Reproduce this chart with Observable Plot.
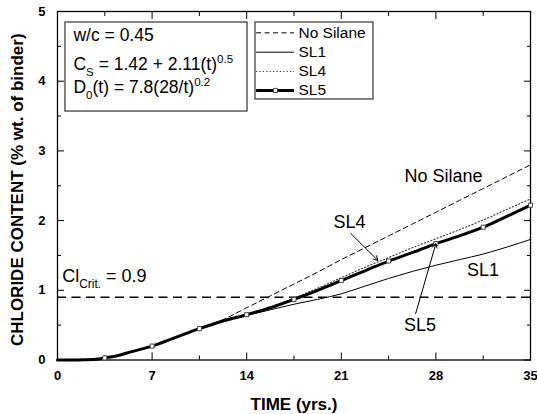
<!DOCTYPE html>
<html><head><meta charset="utf-8">
<script src="https://cdn.jsdelivr.net/npm/d3@7"></script>
<script src="https://cdn.jsdelivr.net/npm/@observablehq/plot@0.6"></script>
<style>body{margin:0;background:#fff}</style>
</head><body><div id="chart"></div>
<script>
// ---- data ----
const sl5T = [0,1,2,3,3.5,4.5,5.5,7,8.75,10.5,12.25,14,15.75,17.5,19.25,21,22.75,24.5,26.25,28,29.75,31.5,33.25,35];
const sl5V = [0,0,0.004,0.015,0.03,0.065,0.12,0.2,0.325,0.45,0.56,0.65,0.75,0.87,1.0,1.14,1.28,1.42,1.54,1.67,1.78,1.905,2.06,2.22];
const sl4T = [0,1,2,3,3.5,4.5,5.5,7,8.75,10.5,12.25,14,15.75,17.5,19.25,21,22.75,24.5,26.25,28,29.75,31.5,33.25,35];
const sl4V = [0,0,0.004,0.015,0.03,0.065,0.12,0.2,0.325,0.45,0.56,0.655,0.76,0.89,1.03,1.18,1.33,1.47,1.61,1.74,1.87,2.01,2.16,2.31];
const noSilT = [0,1,2,3,3.5,4.5,5.5,7,8.75,10.5,11.5,12.25,14,15.75,17.5,19.25,21,22.75,24.5,26.25,28,29.75,31.5,33.25,35];
const noSilV = [0,0,0.004,0.015,0.03,0.065,0.12,0.2,0.325,0.455,0.52,0.58,0.75,0.92,1.09,1.26,1.44,1.61,1.78,1.95,2.12,2.29,2.46,2.63,2.8];
const sl1T = [0,1,2,3,3.5,4.5,5.5,7,8.75,10.5,12.25,14,15.75,17.5,19.25,21,22.75,24.5,26.25,28,29.75,31.5,33.25,35];
const sl1V = [0,0,0.004,0.015,0.03,0.065,0.12,0.2,0.325,0.45,0.555,0.64,0.72,0.80,0.87,0.95,1.06,1.17,1.27,1.36,1.44,1.52,1.62,1.73];
const markerT = [3.5,7,10.5,14,17.5,21,24.5,28,31.5,35];
const markerV = [0.03,0.2,0.45,0.65,0.87,1.14,1.42,1.67,1.905,2.22];
const clCrit = 0.9;
const xMajor = [0,7,14,21,28,35];
const xMinor = [3.5,10.5,17.5,24.5,31.5];
const yMajor = [0,1,2,3,4,5];
const yMinor = [0.5,1.5,2.5,3.5,4.5];
const seriesNames = ["No Silane","SL1","SL4","SL5"];
const boxLines = ["w/c = 0.45","C_{S} = 1.42 + 2.11(t)^{0.5}","D_{0}(t) = 7.8(28/t)^{0.2}"];

const pts = (T,V) => T.map((t,i)=>({t, v:V[i]}));
const FONT = "Liberation Sans, Arial, Helvetica, sans-serif";

// annotation layout (data units)
const boxRect = [{x1:0.59, x2:14.06, y1:3.565, y2:4.842}];
const legRect = [{x1:14.65, x2:23.38, y1:3.738, y2:4.842}];
const legY = [4.694, 4.416, 4.139, 3.867];
const legX1 = 14.73, legX2 = 17.54, legTX = 17.83;
const boxLineY = [4.577, 4.154, 3.824];

const chart = Plot.plot({
  width: 537, height: 414,
  marginLeft: 57, marginRight: 7, marginTop: 11, marginBottom: 54.5,
  x: {domain: [0, 35]},
  y: {domain: [0, 5]},
  style: {fontFamily: FONT, background: "white", color: "black"},
  marks: [
    // axes: labels
    Plot.axisX(xMajor, {anchor: "bottom", tickSize: 0, tickPadding: 11, fontSize: 13, fontWeight: "bold", tickFormat: d => String(d), label: null}),
    Plot.axisY(yMajor, {anchor: "left", tickSize: 0, tickPadding: 12, fontSize: 13, fontWeight: "bold", tickFormat: d => String(d), label: null}),
    // inward ticks
    Plot.axisX(xMajor, {anchor: "bottom", tickSize: -7, tickFormat: () => "", label: null}),
    Plot.axisX(xMinor, {anchor: "bottom", tickSize: -4, tickFormat: () => "", label: null}),
    Plot.axisX(xMajor, {anchor: "top", tickSize: -7, tickFormat: () => "", label: null}),
    Plot.axisX(xMinor, {anchor: "top", tickSize: -4, tickFormat: () => "", label: null}),
    Plot.axisY(yMajor, {anchor: "left", tickSize: -7, tickFormat: () => "", label: null}),
    Plot.axisY(yMinor, {anchor: "left", tickSize: -4, tickFormat: () => "", label: null}),
    Plot.axisY(yMajor, {anchor: "right", tickSize: -7, tickFormat: () => "", label: null}),
    Plot.axisY(yMinor, {anchor: "right", tickSize: -4, tickFormat: () => "", label: null}),
    Plot.frame({stroke: "black", strokeWidth: 1.3}),
    // axis titles
    Plot.text(["TIME (yrs.)"], {frameAnchor: "bottom", dy: 49.5, lineAnchor: "bottom", textAnchor: "middle", fontSize: 17, fontWeight: "bold", text: d => d}),
    Plot.text(["CHLORIDE CONTENT (% wt. of binder)"], {frameAnchor: "left", dx: -40, dy: 4, rotate: -90, textAnchor: "middle", lineAnchor: "middle", fontSize: 17, fontWeight: "bold", text: d => d}),
    // critical line
    Plot.ruleY([clCrit], {stroke: "black", strokeWidth: 1.5, strokeDasharray: "9,5.5"}),
    // series
    Plot.line(pts(noSilT, noSilV), {x: "t", y: "v", stroke: "black", strokeWidth: 1, strokeDasharray: "5,3.5", curve: "monotone-x"}),
    Plot.line(pts(sl1T, sl1V), {x: "t", y: "v", stroke: "black", strokeWidth: 1, curve: "monotone-x"}),
    Plot.line(pts(sl4T, sl4V), {x: "t", y: "v", stroke: "#333", strokeWidth: 1.1, strokeDasharray: "1.2,2.2", curve: "monotone-x"}),
    Plot.line(pts(sl5T, sl5V), {x: "t", y: "v", stroke: "black", strokeWidth: 3, curve: "monotone-x"}),
    Plot.dot(pts(markerT, markerV), {x: "t", y: "v", symbol: "square", r: 2.3, fill: "white", stroke: "#444", strokeWidth: 1}),
    // annotations
    Plot.text(["No Silane"], {x: 28.56, y: 2.547, lineAnchor: "bottom", fontSize: 18, text: d => d}),
    Plot.text(["SL4"], {x: 21.6, y: 1.887, lineAnchor: "bottom", fontSize: 18, text: d => d}),
    Plot.text(["SL1"], {x: 31.49, y: 1.212, lineAnchor: "bottom", fontSize: 18, text: d => d}),
    Plot.text(["SL5"], {x: 26.82, y: 0.423, lineAnchor: "bottom", fontSize: 18, text: d => d}),
    Plot.text(["Cl_{Crit.} = 0.9"], {x: 0.35, y: 1.116, lineAnchor: "bottom", textAnchor: "start", fontSize: 18, text: d => d}),
    Plot.arrow([{x1: 21.7, y1: 1.815, x2: 23.7, y2: 1.43}], {x1: "x1", y1: "y1", x2: "x2", y2: "y2", stroke: "black", strokeWidth: 1, headLength: 7}),
    Plot.arrow([{x1: 26.5, y1: 0.665, x2: 28, y2: 1.67}], {x1: "x1", y1: "y1", x2: "x2", y2: "y2", stroke: "black", strokeWidth: 1, headLength: 7}),
    // info box
    Plot.rect(boxRect, {x1: "x1", x2: "x2", y1: "y1", y2: "y2", fill: "white", stroke: "#333", strokeWidth: 1.2}),
    Plot.text(boxLines, {x: 1.18, y: (d, i) => boxLineY[i], textAnchor: "start", lineAnchor: "bottom", fontSize: 17.5, text: d => d}),
    // legend
    Plot.rect(legRect, {x1: "x1", x2: "x2", y1: "y1", y2: "y2", fill: "white", stroke: "#333", strokeWidth: 1.2}),
    Plot.ruleY([legY[0]], {x1: legX1, x2: legX2, stroke: "black", strokeWidth: 1, strokeDasharray: "5,3.5"}),
    Plot.ruleY([legY[1]], {x1: legX1, x2: legX2, stroke: "black", strokeWidth: 1}),
    Plot.ruleY([legY[2]], {x1: legX1, x2: legX2, stroke: "#333", strokeWidth: 1.1, strokeDasharray: "1.2,2.2"}),
    Plot.ruleY([legY[3]], {x1: legX1, x2: legX2, stroke: "black", strokeWidth: 3}),
    Plot.dot([{x: (legX1 + legX2) / 2, y: legY[3]}], {x: "x", y: "y", symbol: "square", r: 2.3, fill: "white", stroke: "#444", strokeWidth: 1}),
    Plot.text(seriesNames, {x: legTX, y: (d, i) => legY[i], textAnchor: "start", fontSize: 15.5, text: d => d})
  ]
});
document.getElementById("chart").appendChild(chart);

// rich text: _{sub} and ^{sup}
d3.select(chart).selectAll("text").each(function() {
  const s = this.textContent;
  if (!/[_^]\{/.test(s)) return;
  const base = parseFloat(getComputedStyle(this).fontSize) || 16;
  const parts = s.split(/(_\{[^}]*\}|\^\{[^}]*\})/).filter(p => p !== "");
  this.textContent = "";
  let shift = 0;
  for (const p of parts) {
    const ts = document.createElementNS("http://www.w3.org/2000/svg", "tspan");
    let target = 0, txt = p, small = false;
    if (p.startsWith("_{")) { target = 0.32 * base; txt = p.slice(2, -1); small = true; }
    else if (p.startsWith("^{")) { target = -0.45 * base; txt = p.slice(2, -1); small = true; }
    ts.setAttribute("dy", (target - shift) + "px");
    shift = target;
    if (small) ts.setAttribute("font-size", (base * 0.66) + "px");
    ts.textContent = txt;
    this.appendChild(ts);
  }
});
</script>
</body></html>
